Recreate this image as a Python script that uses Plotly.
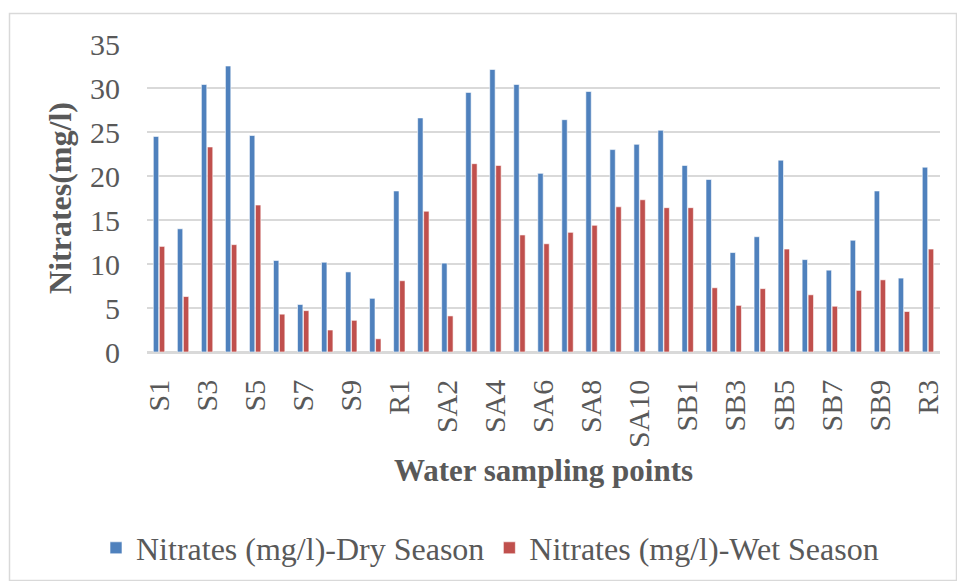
import plotly.graph_objects as go

categories = ["S1", "S2", "S3", "S4", "S5", "S6", "S7", "S8", "S9", "S10",
              "R1", "SA1", "SA2", "SA3", "SA4", "SA5", "SA6", "SA7", "SA8", "SA9", "SA10",
              "R2", "SB1", "SB2", "SB3", "SB4", "SB5", "SB6", "SB7", "SB8", "SB9", "SB10", "R3"]
dry_season = [24.5, 14.0, 30.4, 32.5, 24.6, 10.4, 5.4, 10.2, 9.1, 6.1,
              18.3, 26.6, 10.1, 29.5, 32.1, 30.4, 20.3, 26.4, 29.6, 23.0, 23.6,
              25.2, 21.2, 19.6, 11.3, 13.1, 21.8, 10.5, 9.3, 12.7, 18.3, 8.4, 21.0]
wet_season = [12.0, 6.3, 23.3, 12.2, 16.7, 4.3, 4.7, 2.5, 3.6, 1.5,
              8.1, 16.0, 4.1, 21.4, 21.2, 13.3, 12.3, 13.6, 14.4, 16.5, 17.3,
              16.4, 16.4, 7.3, 5.3, 7.2, 11.7, 6.5, 5.2, 7.0, 8.2, 4.6, 11.7]
tick_labels = categories[::2]

FONT = "Liberation Serif, Times New Roman, serif"
GRAY = "#595959"

fig = go.Figure()
fig.add_trace(go.Bar(x=categories, y=dry_season, name="Nitrates (mg/l)-Dry Season",
                     marker=dict(color="#4F81BD", line=dict(color="#FFFFFF", width=0.6))))
fig.add_trace(go.Bar(x=categories, y=wet_season, name="Nitrates (mg/l)-Wet Season",
                     marker=dict(color="#C0504D", line=dict(color="#FFFFFF", width=0.6))))

W, H = 957, 581
L, R, T, B = 147, 17, 44, 229
pw, ph = W - L - R, H - T - B

def px2x(px):
    return (px - L) / pw

def px2y(py):
    return (H - B - py) / ph

fig.update_layout(
    width=W, height=H,
    margin=dict(l=L, r=R, t=T, b=B, autoexpand=False),
    paper_bgcolor="white", plot_bgcolor="white",
    barmode="group", bargap=0.5, bargroupgap=0.1,
    font=dict(family=FONT, color=GRAY, size=30),
    showlegend=True,
    legend=dict(orientation="h", x=px2x(490), y=px2y(548), xanchor="center", yanchor="middle",
                font=dict(family=FONT, size=32, color=GRAY), itemwidth=30,
                bgcolor="rgba(0,0,0,0)", tracegroupgap=0),
    xaxis=dict(
        type="category", categoryorder="array", categoryarray=categories,
        tickmode="array", tickvals=tick_labels, ticktext=tick_labels,
        tickangle=-90, tickfont=dict(family=FONT, size=30, color=GRAY),
        showgrid=False, showline=True, linecolor="#D9D9D9", linewidth=1.5,
        ticks="", ticklabelstandoff=14, automargin=False,
        title=dict(text="<b>Water sampling points</b>", font=dict(family=FONT, size=31, color=GRAY),
                   standoff=12),
    ),
    yaxis=dict(
        range=[0, 35], tickmode="linear", tick0=0, dtick=5,
        tickfont=dict(family=FONT, size=30, color=GRAY),
        showgrid=True, gridcolor="#D9D9D9", gridwidth=1.5,
        zeroline=True, zerolinecolor="#D9D9D9", zerolinewidth=1.5,
        showline=False, ticks="", ticklabelstandoff=26, automargin=False,
        title=dict(text="<b>Nitrates(mg/l)</b>", font=dict(family=FONT, size=32, color=GRAY),
                   standoff=8),
    ),
    shapes=[dict(type="rect", xref="paper", yref="paper",
                 x0=px2x(9.5), x1=px2x(956.5), y0=px2y(580.5), y1=px2y(13.5),
                 line=dict(color="#D9D9D9", width=1.5), fillcolor="rgba(0,0,0,0)", layer="below")],
)

fig.write_html("out.html")
